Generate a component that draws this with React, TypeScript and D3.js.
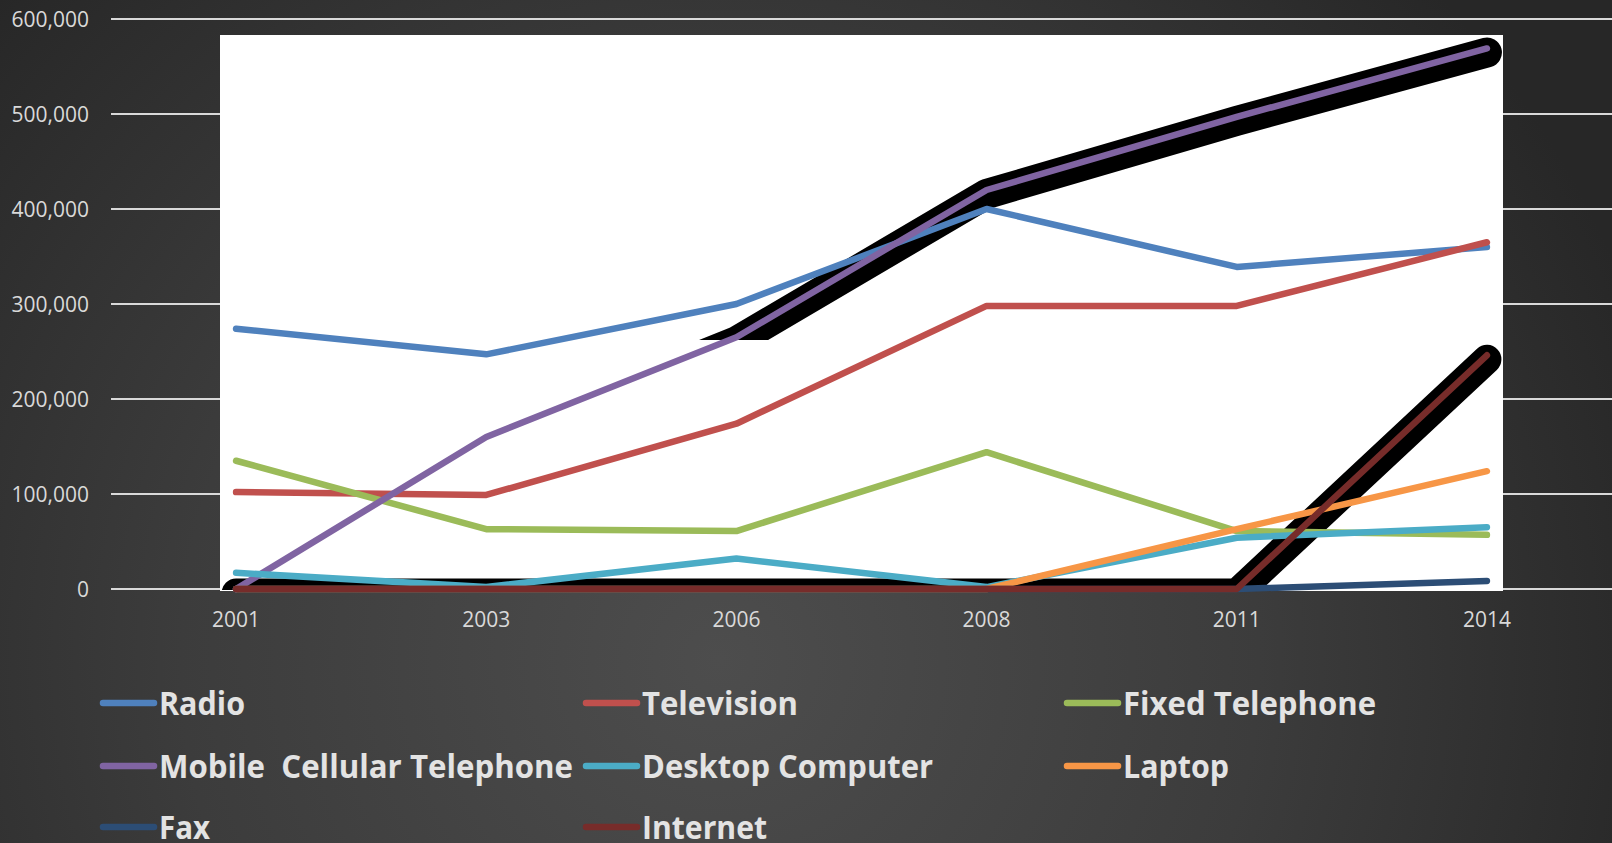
import React from "react";
import * as d3 from "d3";

const years = ["2001", "2003", "2006", "2008", "2011", "2014"];
const radio = [274000, 247000, 300000, 400000, 339000, 360000];
const television = [102000, 99000, 174000, 298000, 298000, 365000];
const fixedTelephone = [135000, 63000, 61000, 144000, 61000, 57000];
const mobile = [0, 160000, 265000, 420000, 497000, 569000];
const desktop = [17000, 2000, 32000, 2000, 54000, 65000];
const laptop = [0, 0, 0, 0, 63000, 124000];
const fax = [0, 0, 0, 0, 0, 8500];
const internet = [0, 0, 0, 0, 0, 246000];
const yTicks = [0, 100000, 200000, 300000, 400000, 500000, 600000];

const seriesNames = [
  "Radio",
  "Television",
  "Fixed Telephone",
  "Mobile  Cellular Telephone",
  "Desktop Computer",
  "Laptop",
  "Fax",
  "Internet",
];
const seriesColors = ["#4F81BD", "#C0504D", "#9BBB59", "#8064A2", "#4BACC6", "#F79646", "#2C4D75", "#772C2A"];
const seriesValues = [radio, television, fixedTelephone, mobile, desktop, laptop, fax, internet];

const W = 1612;
const H = 843;

export default function App() {
  const x = d3.scalePoint<string>().domain(years).range([111, 1612]).padding(0.5);
  const y = d3.scaleLinear().domain([0, 600000]).range([589, 19]);
  const fmt = d3.format(",");

  const line = d3
    .line<number>()
    .x((_, i) => x(years[i]) as number)
    .y((v) => y(v));
  const shadowLine = d3
    .line<number>()
    .x((_, i) => x(years[i]) as number)
    .y((v) => y(v) + 4);

  const legendCols = [100, 583, 1064];
  const legendRows = [703, 766, 827];
  const legendWidths = [86, 156, 253, 414, 291, 106, 51, 125];

  return (
    <svg
      width={W}
      height={H}
      style={{ position: "absolute", left: 0, top: 0, display: "block" }}
      xmlns="http://www.w3.org/2000/svg"
    >
      <defs>
        <radialGradient id="bg" gradientUnits="userSpaceOnUse" cx={720} cy={660} r={980}>
          <stop offset="0" stopColor="#4d4d4d" />
          <stop offset="0.55" stopColor="#3c3c3c" />
          <stop offset="1" stopColor="#272727" />
        </radialGradient>
        <clipPath id="clipZero">
          <rect x={0} y={0} width={W} height={590} />
        </clipPath>
        <clipPath id="clipMobile">
          <rect x={0} y={0} width={W} height={y(262000)} />
        </clipPath>
      </defs>
      <rect x={0} y={0} width={W} height={H} fill="url(#bg)" />

      {yTicks.map((t) => (
        <line key={t} x1={111} x2={W} y1={y(t)} y2={y(t)} stroke="#d9d9d9" strokeWidth={2} />
      ))}

      <rect x={220} y={35} width={1283} height={556} fill="#ffffff" />

      {yTicks.map((t) => (
        <text
          key={"l" + t}
          x={89}
          y={y(t)}
          dy="0.36em"
          textAnchor="end"
          fontFamily="'Open Sans', sans-serif"
          fontSize={21}
          fill="#d9d9d9"
        >
          {fmt(t)}
        </text>
      ))}

      {years.map((yr) => (
        <text
          key={yr}
          x={x(yr) as number}
          y={627}
          textAnchor="middle"
          fontFamily="'Open Sans', sans-serif"
          fontSize={21}
          fill="#d9d9d9"
        >
          {yr}
        </text>
      ))}

      <g clipPath="url(#clipMobile)">
        <path d={shadowLine(mobile) || ""} fill="none" stroke="#000" strokeWidth={30} strokeLinejoin="round" strokeLinecap="round" />
      </g>
      <g clipPath="url(#clipZero)">
        <path d={shadowLine(internet) || ""} fill="none" stroke="#000" strokeWidth={29} strokeLinejoin="round" strokeLinecap="round" />
      </g>

      {seriesValues.map((vals, i) => (
        <path
          key={seriesNames[i]}
          d={line(vals) || ""}
          fill="none"
          stroke={seriesColors[i]}
          strokeWidth={6.5}
          strokeLinejoin="round"
          strokeLinecap="round"
        />
      ))}

      {seriesNames.map((name, i) => {
        const col = i % 3;
        const row = Math.floor(i / 3);
        const lx = legendCols[col];
        const ly = legendRows[row];
        return (
          <g key={"lg" + name}>
            <line x1={lx + 3} x2={lx + 54} y1={ly} y2={ly} stroke={seriesColors[i]} strokeWidth={6.5} strokeLinecap="round" />
            <text
              x={lx + 59}
              y={ly + 12}
              fontFamily="'Open Sans', sans-serif"
              fontWeight="bold"
              fontSize={32}
              fill="#e3e3e3"
              textLength={legendWidths[i]}
              lengthAdjust="spacingAndGlyphs"
              style={{ whiteSpace: "pre" }}
            >
              {name}
            </text>
          </g>
        );
      })}
    </svg>
  );
}
